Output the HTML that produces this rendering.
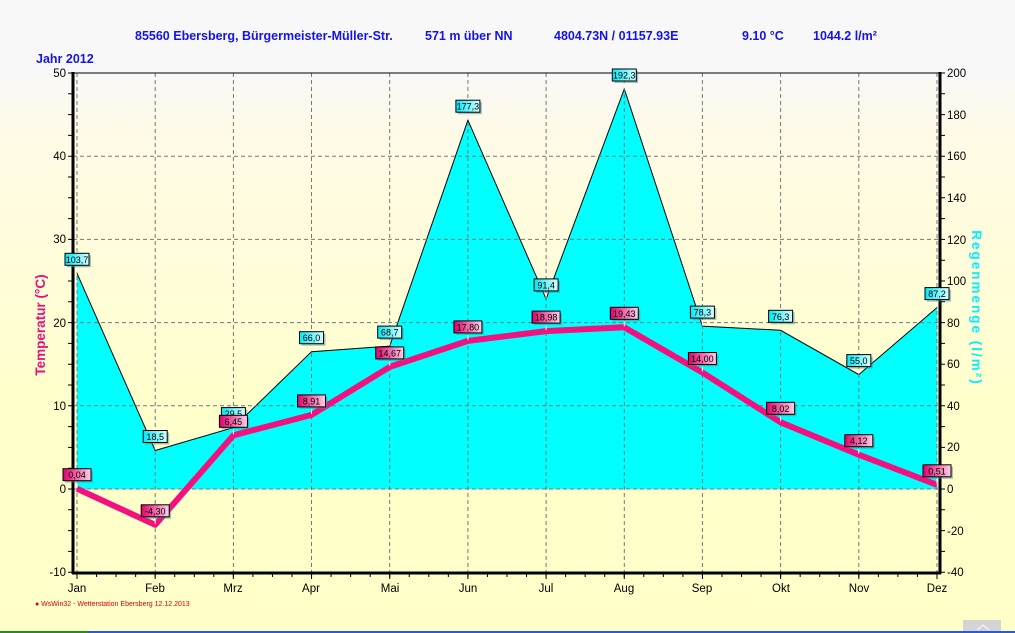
<!DOCTYPE html>
<html><head><meta charset="utf-8"><style>
body{margin:0;width:1015px;height:633px;overflow:hidden;background:linear-gradient(#f8f8f8 0px,#f8f8f8 70px,#fffbe6 140px,#ffffcc 400px,#ffffc8 633px);font-family:"Liberation Sans",sans-serif}
svg{position:absolute;left:0;top:0}
</style></head><body>
<svg width="1015" height="633" xmlns="http://www.w3.org/2000/svg" font-family="Liberation Sans, sans-serif">
<defs>
<linearGradient id="pk" x1="0" x2="1"><stop offset="0" stop-color="#e0006a"/><stop offset="1" stop-color="#ffd0e8"/></linearGradient>
<linearGradient id="cy" x1="0" x2="1"><stop offset="0" stop-color="#00e8f8"/><stop offset="1" stop-color="#d8ffff"/></linearGradient>
</defs>
<g fill="#1414e6" font-weight="bold" font-size="12.5">
<text x="135" y="40">85560 Ebersberg, Bürgermeister-Müller-Str.</text>
<text x="425" y="40">571 m über NN</text>
<text x="554" y="40">4804.73N / 01157.93E</text>
<text x="742" y="40">9.10 °C</text>
<text x="813" y="40">1044.2 l/m²</text>
<text x="36" y="63">Jahr  2012</text>
</g>
<polygon fill="#00ffff" points="77,489 77,273.3 155.2,450.5 233.4,427.6 311.5,351.7 389.7,346.1 467.9,120.2 546.1,298.9 624.3,89 702.4,326.1 780.6,330.3 858.8,374.6 937,307.6 937,489"/>
<polyline fill="none" stroke="#000" stroke-width="1" points="77,273.3 155.2,450.5 233.4,427.6 311.5,351.7 389.7,346.1 467.9,120.2 546.1,298.9 624.3,89 702.4,326.1 780.6,330.3 858.8,374.6 937,307.6"/>
<g stroke="#777" stroke-dasharray="4,3" stroke-width="1">
<line x1="77" y1="73" x2="77" y2="573"/><line x1="155.2" y1="73" x2="155.2" y2="573"/><line x1="233.4" y1="73" x2="233.4" y2="573"/><line x1="311.5" y1="73" x2="311.5" y2="573"/><line x1="389.7" y1="73" x2="389.7" y2="573"/><line x1="467.9" y1="73" x2="467.9" y2="573"/><line x1="546.1" y1="73" x2="546.1" y2="573"/><line x1="624.3" y1="73" x2="624.3" y2="573"/><line x1="702.4" y1="73" x2="702.4" y2="573"/><line x1="780.6" y1="73" x2="780.6" y2="573"/><line x1="858.8" y1="73" x2="858.8" y2="573"/><line x1="937" y1="73" x2="937" y2="573"/>
<line x1="73" y1="156.2" x2="940" y2="156.2"/><line x1="73" y1="239.4" x2="940" y2="239.4"/><line x1="73" y1="322.6" x2="940" y2="322.6"/><line x1="73" y1="405.8" x2="940" y2="405.8"/><line x1="73" y1="489" x2="940" y2="489"/>
</g>
<polyline fill="none" stroke="#f5107f" stroke-width="6" stroke-linejoin="round" points="77,488.7 155.2,524.8 233.4,435.3 311.5,414.9 389.7,366.9 467.9,340.9 546.1,331.1 624.3,327.3 702.4,372.5 780.6,422.3 858.8,454.7 937,484.8"/>
<g stroke="#000">
<line x1="73" y1="72" x2="73" y2="574" stroke-width="3"/>
<line x1="940" y1="72" x2="940" y2="574" stroke-width="3"/>
<line x1="72" y1="573" x2="941" y2="573" stroke-width="3"/>
<line x1="73" y1="73" x2="940" y2="73" stroke-width="1"/>
</g>
<g stroke="#000" stroke-width="1" fill="none">
<path d="M68 73h5m-5 20.8h5m-5 20.8h5m-5 20.8h5m-5 20.8h5m-5 20.8h5m-5 20.8h5m-5 20.8h5m-5 20.8h5m-5 20.8h5m-5 20.8h5m-5 20.8h5m-5 20.8h5m-5 20.8h5m-5 20.8h5m-5 20.8h5m-5 20.8h5m-5 20.8h5m-5 20.8h5m-5 20.8h5m-5 20.8h5m-5 20.8h5m-5 20.8h5m-5 20.8h5m-5 20.8h5"/>
<path d="M940 73h5m-5 20.8h5m-5 20.8h5m-5 20.8h5m-5 20.8h5m-5 20.8h5m-5 20.8h5m-5 20.8h5m-5 20.8h5m-5 20.8h5m-5 20.8h5m-5 20.8h5m-5 20.8h5m-5 20.8h5m-5 20.8h5m-5 20.8h5m-5 20.8h5m-5 20.8h5m-5 20.8h5m-5 20.8h5m-5 20.8h5m-5 20.8h5m-5 20.8h5m-5 20.8h5m-5 20.8h5"/>
<path d="M77 573v4m19.545 -4v4m19.545 -4v4m19.545 -4v4m19.545 -4v4m19.545 -4v4m19.545 -4v4m19.545 -4v4m19.545 -4v4m19.545 -4v4m19.545 -4v4m19.545 -4v4m19.545 -4v4m19.545 -4v4m19.545 -4v4m19.545 -4v4m19.545 -4v4m19.545 -4v4m19.545 -4v4m19.545 -4v4m19.545 -4v4m19.545 -4v4m19.545 -4v4m19.545 -4v4m19.545 -4v4m19.545 -4v4m19.545 -4v4m19.545 -4v4m19.545 -4v4m19.545 -4v4m19.545 -4v4m19.545 -4v4m19.545 -4v4m19.545 -4v4m19.545 -4v4m19.545 -4v4m19.545 -4v4m19.545 -4v4m19.545 -4v4m19.545 -4v4m19.545 -4v4m19.545 -4v4m19.545 -4v4m19.545 -4v4"/>
<path d="M77 573v6m78.18 -6v6m78.18 -6v6m78.18 -6v6m78.18 -6v6m78.18 -6v6m78.18 -6v6m78.18 -6v6m78.18 -6v6m78.18 -6v6m78.18 -6v6m78.18 -6v6"/>
</g>
<g font-size="11.5" fill="#000">
<text x="66" y="77" text-anchor="end">50</text><text x="66" y="160" text-anchor="end">40</text><text x="66" y="243" text-anchor="end">30</text><text x="66" y="327" text-anchor="end">20</text><text x="66" y="410" text-anchor="end">10</text><text x="66" y="493" text-anchor="end">0</text><text x="66" y="576" text-anchor="end">-10</text>
<text x="947" y="77">200</text><text x="947" y="119">180</text><text x="947" y="160">160</text><text x="947" y="202">140</text><text x="947" y="244">120</text><text x="947" y="285">100</text><text x="947" y="327">80</text><text x="947" y="368">60</text><text x="947" y="410">40</text><text x="947" y="451">20</text><text x="947" y="493">0</text><text x="947" y="535">-20</text><text x="947" y="576">-40</text>
<g text-anchor="middle"><text x="77" y="592">Jan</text><text x="155" y="592">Feb</text><text x="233" y="592">Mrz</text><text x="311" y="592">Apr</text><text x="390" y="592">Mai</text><text x="468" y="592">Jun</text><text x="546" y="592">Jul</text><text x="624" y="592">Aug</text><text x="702" y="592">Sep</text><text x="781" y="592">Okt</text><text x="859" y="592">Nov</text><text x="937" y="592">Dez</text></g>
</g>
<text transform="translate(45,325) rotate(-90)" text-anchor="middle" fill="#e8107a" font-weight="bold" font-size="13.5">Temperatur  (°C)</text>
<text transform="translate(972,308) rotate(90)" text-anchor="middle" fill="#00f0ff" font-weight="bold" font-size="13.5" letter-spacing="2">Regenmenge  (l/m²)</text>
<text x="35" y="606" fill="#e00000" font-size="7">● WsWin32  -  Wetterstation Ebersberg  12.12.2013</text>
<g font-size="9" text-anchor="middle">
<g transform="translate(77,273.3)"><line y1="-6" y2="-1" stroke="#fff"/><rect x="-10" y="-18" width="24" height="12" fill="#4a8a8a" opacity=".5"/><rect x="-12" y="-20" width="24" height="12" fill="url(#cy)" stroke="#000"/><text y="-10.5">103,7</text></g>
<g transform="translate(155.2,450.5)"><line y1="-6" y2="-1" stroke="#fff"/><rect x="-10" y="-18" width="24" height="12" fill="#4a8a8a" opacity=".5"/><rect x="-12" y="-20" width="24" height="12" fill="url(#cy)" stroke="#000"/><text y="-10.5">18,5</text></g>
<g transform="translate(233.4,427.6)"><line y1="-6" y2="-1" stroke="#fff"/><rect x="-10" y="-18" width="24" height="12" fill="#4a8a8a" opacity=".5"/><rect x="-12" y="-20" width="24" height="12" fill="url(#cy)" stroke="#000"/><text y="-10.5">29,5</text></g>
<g transform="translate(311.5,351.7)"><line y1="-6" y2="-1" stroke="#fff"/><rect x="-10" y="-18" width="24" height="12" fill="#4a8a8a" opacity=".5"/><rect x="-12" y="-20" width="24" height="12" fill="url(#cy)" stroke="#000"/><text y="-10.5">66,0</text></g>
<g transform="translate(389.7,346.1)"><line y1="-6" y2="-1" stroke="#fff"/><rect x="-10" y="-18" width="24" height="12" fill="#4a8a8a" opacity=".5"/><rect x="-12" y="-20" width="24" height="12" fill="url(#cy)" stroke="#000"/><text y="-10.5">68,7</text></g>
<g transform="translate(467.9,120.2)"><line y1="-6" y2="-1" stroke="#fff"/><rect x="-10" y="-18" width="24" height="12" fill="#4a8a8a" opacity=".5"/><rect x="-12" y="-20" width="24" height="12" fill="url(#cy)" stroke="#000"/><text y="-10.5">177,3</text></g>
<g transform="translate(546.1,298.9)"><line y1="-6" y2="-1" stroke="#fff"/><rect x="-10" y="-18" width="24" height="12" fill="#4a8a8a" opacity=".5"/><rect x="-12" y="-20" width="24" height="12" fill="url(#cy)" stroke="#000"/><text y="-10.5">91,4</text></g>
<g transform="translate(624.3,89)"><line y1="-6" y2="-1" stroke="#fff"/><rect x="-10" y="-18" width="24" height="12" fill="#4a8a8a" opacity=".5"/><rect x="-12" y="-20" width="24" height="12" fill="url(#cy)" stroke="#000"/><text y="-10.5">192,3</text></g>
<g transform="translate(702.4,326.1)"><line y1="-6" y2="-1" stroke="#fff"/><rect x="-10" y="-18" width="24" height="12" fill="#4a8a8a" opacity=".5"/><rect x="-12" y="-20" width="24" height="12" fill="url(#cy)" stroke="#000"/><text y="-10.5">78,3</text></g>
<g transform="translate(780.6,330.3)"><line y1="-6" y2="-1" stroke="#fff"/><rect x="-10" y="-18" width="24" height="12" fill="#4a8a8a" opacity=".5"/><rect x="-12" y="-20" width="24" height="12" fill="url(#cy)" stroke="#000"/><text y="-10.5">76,3</text></g>
<g transform="translate(858.8,374.6)"><line y1="-6" y2="-1" stroke="#fff"/><rect x="-10" y="-18" width="24" height="12" fill="#4a8a8a" opacity=".5"/><rect x="-12" y="-20" width="24" height="12" fill="url(#cy)" stroke="#000"/><text y="-10.5">55,0</text></g>
<g transform="translate(937,307.6)"><line y1="-6" y2="-1" stroke="#fff"/><rect x="-10" y="-18" width="24" height="12" fill="#4a8a8a" opacity=".5"/><rect x="-12" y="-20" width="24" height="12" fill="url(#cy)" stroke="#000"/><text y="-10.5">87,2</text></g>

<g transform="translate(77,488.7)"><line y1="-6" y2="-1" stroke="#fff"/><rect x="-12" y="-18" width="28" height="12" fill="#4a8a8a" opacity=".5"/><rect x="-14" y="-20" width="28" height="12" fill="url(#pk)" stroke="#000"/><text y="-10.5">0,04</text></g>
<g transform="translate(155.2,524.8)"><line y1="-6" y2="-1" stroke="#fff"/><rect x="-12" y="-18" width="28" height="12" fill="#4a8a8a" opacity=".5"/><rect x="-14" y="-20" width="28" height="12" fill="url(#pk)" stroke="#000"/><text y="-10.5">-4,30</text></g>
<g transform="translate(233.4,435.3)"><line y1="-6" y2="-1" stroke="#fff"/><rect x="-12" y="-18" width="28" height="12" fill="#4a8a8a" opacity=".5"/><rect x="-14" y="-20" width="28" height="12" fill="url(#pk)" stroke="#000"/><text y="-10.5">6,45</text></g>
<g transform="translate(311.5,414.9)"><line y1="-6" y2="-1" stroke="#fff"/><rect x="-12" y="-18" width="28" height="12" fill="#4a8a8a" opacity=".5"/><rect x="-14" y="-20" width="28" height="12" fill="url(#pk)" stroke="#000"/><text y="-10.5">8,91</text></g>
<g transform="translate(389.7,366.9)"><line y1="-6" y2="-1" stroke="#fff"/><rect x="-12" y="-18" width="28" height="12" fill="#4a8a8a" opacity=".5"/><rect x="-14" y="-20" width="28" height="12" fill="url(#pk)" stroke="#000"/><text y="-10.5">14,67</text></g>
<g transform="translate(467.9,340.9)"><line y1="-6" y2="-1" stroke="#fff"/><rect x="-12" y="-18" width="28" height="12" fill="#4a8a8a" opacity=".5"/><rect x="-14" y="-20" width="28" height="12" fill="url(#pk)" stroke="#000"/><text y="-10.5">17,80</text></g>
<g transform="translate(546.1,331.1)"><line y1="-6" y2="-1" stroke="#fff"/><rect x="-12" y="-18" width="28" height="12" fill="#4a8a8a" opacity=".5"/><rect x="-14" y="-20" width="28" height="12" fill="url(#pk)" stroke="#000"/><text y="-10.5">18,98</text></g>
<g transform="translate(624.3,327.3)"><line y1="-6" y2="-1" stroke="#fff"/><rect x="-12" y="-18" width="28" height="12" fill="#4a8a8a" opacity=".5"/><rect x="-14" y="-20" width="28" height="12" fill="url(#pk)" stroke="#000"/><text y="-10.5">19,43</text></g>
<g transform="translate(702.4,372.5)"><line y1="-6" y2="-1" stroke="#fff"/><rect x="-12" y="-18" width="28" height="12" fill="#4a8a8a" opacity=".5"/><rect x="-14" y="-20" width="28" height="12" fill="url(#pk)" stroke="#000"/><text y="-10.5">14,00</text></g>
<g transform="translate(780.6,422.3)"><line y1="-6" y2="-1" stroke="#fff"/><rect x="-12" y="-18" width="28" height="12" fill="#4a8a8a" opacity=".5"/><rect x="-14" y="-20" width="28" height="12" fill="url(#pk)" stroke="#000"/><text y="-10.5">8,02</text></g>
<g transform="translate(858.8,454.7)"><line y1="-6" y2="-1" stroke="#fff"/><rect x="-12" y="-18" width="28" height="12" fill="#4a8a8a" opacity=".5"/><rect x="-14" y="-20" width="28" height="12" fill="url(#pk)" stroke="#000"/><text y="-10.5">4,12</text></g>
<g transform="translate(937,484.8)"><line y1="-6" y2="-1" stroke="#fff"/><rect x="-12" y="-18" width="28" height="12" fill="#4a8a8a" opacity=".5"/><rect x="-14" y="-20" width="28" height="12" fill="url(#pk)" stroke="#000"/><text y="-10.5">0,51</text></g>
</g>
<rect x="963" y="620" width="38" height="13" fill="#d4d4d4"/>
<path d="M977,630 L983,625 L989,630" fill="none" stroke="#fff"/>
<rect x="0" y="631" width="88" height="2" fill="#2a8a2a"/><rect x="88" y="631" width="927" height="2" fill="#2a5ad8"/>
</svg>
</body></html>
